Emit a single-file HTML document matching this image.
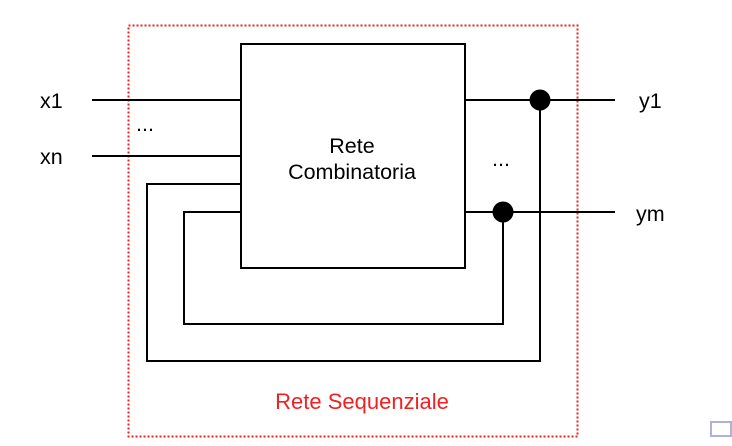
<!DOCTYPE html>
<html><head><style>body{margin:0;background:#fff}svg{display:block}</style></head><body>
<svg width="732" height="446" viewBox="0 0 732 446" xmlns="http://www.w3.org/2000/svg" font-family="Liberation Sans, sans-serif">
<rect x="128.5" y="25.5" width="449" height="411" fill="none" stroke="#ee2222" stroke-width="2" stroke-dasharray="2,2"/>
<g stroke="#000" stroke-width="2" fill="none">
<rect x="241" y="44" width="224" height="224"/>
<line x1="92" y1="100" x2="241" y2="100"/>
<line x1="92" y1="156" x2="241" y2="156"/>
<polyline points="241,184 147,184 147,361 540,361 540,100"/>
<polyline points="241,212 184,212 184,324 503,324 503,212"/>
<line x1="465" y1="100" x2="615" y2="100"/>
<line x1="465" y1="212" x2="615" y2="212"/>
</g>
<circle cx="540" cy="100" r="10.5"/>
<circle cx="503" cy="212" r="10.5"/>
<g font-size="21.5" fill="#000">
<text x="40" y="108">x1</text>
<text x="40" y="164">xn</text>
<text x="639" y="108">y1</text>
<text x="636" y="221">ym</text>
<text x="136" y="131">...</text>
<text x="492" y="166">...</text>
<text x="352" y="153" text-anchor="middle">Rete</text>
<text x="352" y="179" text-anchor="middle">Combinatoria</text>
<text x="362" y="409" text-anchor="middle" fill="#ee2222" font-size="22">Rete Sequenziale</text>
</g>
<rect x="711" y="422" width="20" height="14" fill="none" stroke="#b0b0e0" stroke-width="2"/>
</svg>
</body></html>
